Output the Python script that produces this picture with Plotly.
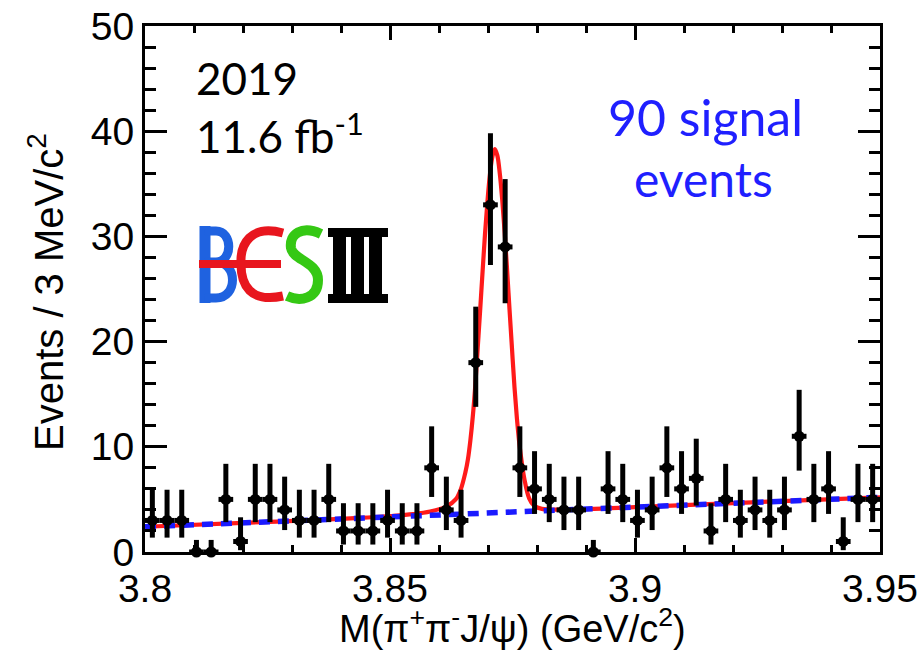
import math
import plotly.graph_objects as go

# ---------------- data ----------------
bin_lo = 3.80
bin_w = 0.003
counts = [3, 3, 3, 0, 0, 5, 1, 5, 5, 4,
          3, 3, 5, 2, 2, 2, 3, 2, 2, 8,
          4, 3, 18, 33, 29, 8, 6, 5, 4, 4,
          0, 6, 5, 3, 4, 8, 6, 7, 2, 5,
          3, 4, 3, 4, 11, 5, 6, 1, 5, 5]
bin_centers = [round(bin_lo + bin_w * (i + 0.5), 5) for i in range(len(counts))]

# total fit (signal + background)
fit_x = [3.8000, 3.8200, 3.8400, 3.8500, 3.8547, 3.8582, 3.8616, 3.8634, 3.8644,
         3.8654, 3.8659, 3.8664, 3.8669, 3.8674, 3.8679, 3.8684, 3.8689, 3.8694,
         3.8699, 3.8704, 3.8709, 3.8714, 3.8719, 3.8724, 3.8729, 3.8734, 3.8739,
         3.8744, 3.8749, 3.8754, 3.8759, 3.8764, 3.8769, 3.8774, 3.8784, 3.8794,
         3.8810, 3.8850, 3.9000, 3.9200, 3.9500]
fit_y = [2.40, 2.77, 3.15, 3.42, 3.60, 3.85, 4.35, 5.0, 5.9,
         7.6, 8.8, 10.6, 12.9, 15.8, 19.4, 23.0, 26.7, 30.3,
         33.4, 35.9, 37.6, 38.3, 37.7, 36.0, 33.5, 30.4, 26.8,
         23.0, 19.3, 15.7, 12.7, 10.3, 8.5, 7.0, 5.1, 4.4,
         4.1, 4.02, 4.27, 4.65, 5.20]

# background component
bkg_x = [3.80, 3.85, 3.90, 3.95]
bkg_y = [2.40, 3.33, 4.27, 5.20]

x_ticks = [3.8, 3.85, 3.9, 3.95]
x_ticktext = ["3.8", "3.85", "3.9", "3.95"]
y_ticks = [0, 10, 20, 30, 40, 50]


# Poisson (Garwood) 68.27% intervals for the error bars
def pois_cdf(k, lam):
    s, term = 0.0, math.exp(-lam)
    for i in range(k + 1):
        if i > 0:
            term *= lam / i
        s += term
    return s


def bisect(f, lo, hi):
    for _ in range(80):
        mid = 0.5 * (lo + hi)
        if f(mid) > 0:
            lo = mid
        else:
            hi = mid
    return 0.5 * (lo + hi)


alpha = 0.1586553
err_up, err_dn = [], []
for n in counts:
    if n == 0:
        err_up.append(-math.log(1 - 0.6827))
        err_dn.append(0.0)
        continue
    lo = bisect(lambda l: alpha - (1 - pois_cdf(n - 1, l)), 0.0, n + 0.0)
    up = bisect(lambda l: pois_cdf(n, l) - alpha, n + 0.0, n + 20.0)
    err_up.append(up - n)
    err_dn.append(n - lo)

# ---------------- figure ----------------
fig = go.Figure()

fig.add_trace(go.Scatter(
    x=fit_x, y=fit_y, mode="lines", line=dict(color="#ff1a1a", width=4.2, shape="spline"),
    hoverinfo="skip", showlegend=False))

fig.add_trace(go.Scatter(
    x=bkg_x, y=bkg_y, mode="lines",
    line=dict(color="#1a1aff", width=5.5, dash="11px,8px"),
    hoverinfo="skip", showlegend=False))

fig.add_trace(go.Scatter(
    x=bin_centers, y=counts, mode="markers",
    marker=dict(color="black", size=11, symbol="circle"),
    error_y=dict(type="data", symmetric=False, array=err_up, arrayminus=err_dn,
                 color="black", thickness=5, width=0),
    error_x=dict(type="constant", value=bin_w / 2, color="black", thickness=5, width=0),
    cliponaxis=False, showlegend=False))

# ---------------- logo (BESIII) drawn as shapes ----------------
L, R, T, B = 145, 880, 26, 552


def px(xp):
    return (xp - L) / (R - L)


def py(yp):
    return (B - yp) / (B - T)


def path(cmds):
    out = []
    for c in cmds:
        if isinstance(c, str):
            out.append(c)
        else:
            out.append("%.5f,%.5f" % (px(c[0]), py(c[1])))
    return " ".join(out)


blue, red, green = "#1f62e0", "#e8161e", "#35c814"
shapes = []
# B
shapes.append(dict(type="path", xref="paper", yref="paper",
                   path=path(["M", (205, 226), "L", (205, 303)]),
                   line=dict(color=blue, width=11)))
shapes.append(dict(type="path", xref="paper", yref="paper",
                   path=path(["M", (205, 231), "L", (216, 231), "C", (233, 231), (233, 262), (216, 262),
                              "L", (205, 262), "M", (216, 262), "C", (238, 262), (238, 298), (216, 298),
                              "L", (205, 298)]),
                   line=dict(color=blue, width=9)))
# E (epsilon-like) and red bar
shapes.append(dict(type="path", xref="paper", yref="paper",
                   path=path(["M", (283, 233), "C", (250, 224), (240, 245), (241, 264),
                              "C", (241, 285), (250, 303), (283, 296)]),
                   line=dict(color=red, width=9)))
shapes.append(dict(type="path", xref="paper", yref="paper",
                   path=path(["M", (199, 264), "L", (281, 264)]),
                   line=dict(color=red, width=8)))
# S
shapes.append(dict(type="path", xref="paper", yref="paper",
                   path=path(["M", (321, 234), "C", (302, 225), (289, 234), (291, 248),
                              "C", (293, 260), (318, 262), (318, 280),
                              "C", (318, 299), (300, 302), (287, 296)]),
                   line=dict(color=green, width=10)))
# III
for (x0, y0, x1, y1) in [(328, 228, 388, 237), (328, 294, 388, 303),
                         (333, 237, 346, 294), (351, 237, 364, 294), (369, 237, 382, 294)]:
    shapes.append(dict(type="rect", xref="paper", yref="paper",
                       x0=px(x0), x1=px(x1), y0=py(y1), y1=py(y0),
                       line=dict(width=0), fillcolor="black"))

ann_font = "Lato, Open Sans, sans-serif"
axis_fam = "Liberation Sans, Arial, sans-serif"
annotations = [
    dict(text="2019", x=px(194), y=py(78), xref="paper", yref="paper", xanchor="left",
         yanchor="middle", showarrow=False, font=dict(family=ann_font, size=44, color="black")),
    dict(text="11.6 fb<sup>-1</sup>", x=px(194), y=py(133), xref="paper", yref="paper",
         xanchor="left", yanchor="middle", showarrow=False,
         font=dict(family=ann_font, size=44, color="black")),
    dict(text="90 signal", x=px(705), y=py(117), xref="paper", yref="paper", xanchor="center",
         yanchor="middle", showarrow=False, font=dict(family=ann_font, size=50, color="#1f1fff")),
    dict(text="events", x=px(703), y=py(178), xref="paper", yref="paper", xanchor="center",
         yanchor="middle", showarrow=False, font=dict(family=ann_font, size=48, color="#1f1fff")),
    # axis titles
    dict(text="M(π<sup>+</sup>π<sup>-</sup>J/ψ) (GeV/c<sup>2</sup>)", x=px(512), y=py(626),
         xref="paper", yref="paper", xanchor="center", yanchor="middle", showarrow=False,
         font=dict(family=axis_fam, size=38, color="black")),
    dict(text="Events / 3 MeV/c<sup>2</sup>", x=px(46), y=py(292), textangle=-90,
         xref="paper", yref="paper", xanchor="center", yanchor="middle", showarrow=False,
         font=dict(family=axis_fam, size=40, color="black")),
]

axis_font = dict(family=axis_fam, size=39, color="black")

fig.update_layout(
    width=918, height=650,
    margin=dict(l=L, r=918 - R, t=T, b=650 - B, autoexpand=False),
    plot_bgcolor="white", paper_bgcolor="white",
    shapes=shapes, annotations=annotations,
    xaxis=dict(range=[3.8, 3.95], tickvals=x_ticks, ticktext=x_ticktext, automargin=False,
               ticks="inside", ticklen=14, tickwidth=2.5, tickcolor="black",
               minor=dict(dtick=0.01, tick0=3.8, ticks="inside", ticklen=7, tickwidth=2.5,
                          tickcolor="black"),
               showline=True, linewidth=3, linecolor="black", mirror="ticks",
               showgrid=False, zeroline=False, tickfont=axis_font),
    yaxis=dict(range=[0, 50], tickvals=y_ticks, automargin=False,
               ticks="inside", ticklen=22, tickwidth=2.5, tickcolor="black",
               minor=dict(dtick=2, tick0=0, ticks="inside", ticklen=11, tickwidth=2.5,
                          tickcolor="black"),
               showline=True, linewidth=3, linecolor="black", mirror="ticks",
               showgrid=False, zeroline=False, tickfont=axis_font),
)

fig.write_html("out.html")
